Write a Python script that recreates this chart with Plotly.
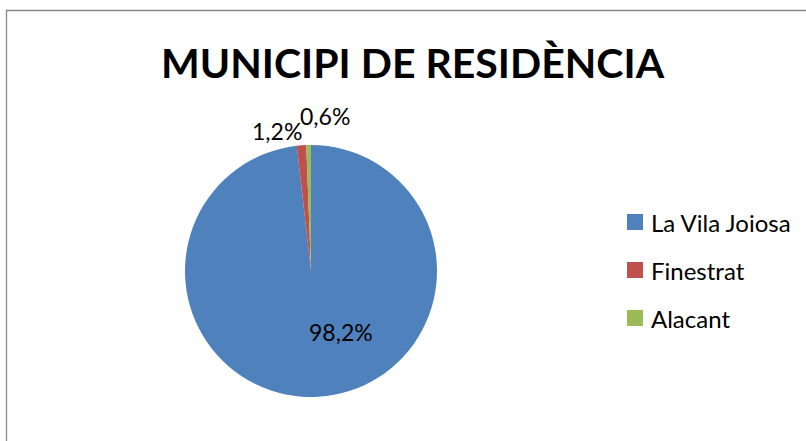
import plotly.graph_objects as go

categories = ["La Vila Joiosa", "Finestrat", "Alacant"]
values = [98.2, 1.2, 0.6]
colors = ["#4F81BD", "#C0504D", "#9BBB59"]
title_text = "MUNICIPI DE RESIDÈNCIA"

W, H = 806, 441
FONT = "Lato, Carlito, Calibri, sans-serif"

def px(x):
    return x / W

def py(y):
    return 1 - y / H

fig = go.Figure()
fig.add_trace(go.Pie(
    labels=categories,
    values=values,
    marker=dict(colors=colors, line=dict(width=0)),
    sort=False,
    direction="clockwise",
    rotation=0,
    textinfo="none",
    hoverinfo="label+percent",
    showlegend=False,
    domain=dict(x=[px(185), px(437)], y=[py(397), py(145)]),
))

# data labels
label_pos = [(341, 332), (277, 131), (325, 116)]
annotations = []
for v, (x, y) in zip(values, label_pos):
    annotations.append(dict(
        x=px(x), y=py(y), xref="paper", yref="paper",
        text=f"{v:.1f}%".replace(".", ","), showarrow=False,
        font=dict(family=FONT, size=23, color="#000000"),
        xanchor="center", yanchor="middle",
    ))

# title
annotations.append(dict(
    x=px(413), y=py(62), xref="paper", yref="paper",
    text=f"<b>{title_text}</b>", showarrow=False,
    font=dict(family=FONT, size=41, color="#000000"),
    xanchor="center", yanchor="middle",
))

# legend (manual)
shapes = []
legend_y = [222, 270, 318]
for cat, col, ly in zip(categories, colors, legend_y):
    shapes.append(dict(
        type="rect", xref="paper", yref="paper",
        x0=px(627), x1=px(643), y0=py(ly + 8), y1=py(ly - 8),
        fillcolor=col, line=dict(width=0),
    ))
    annotations.append(dict(
        x=px(649), y=py(ly), xref="paper", yref="paper",
        text=cat, showarrow=False,
        font=dict(family=FONT, size=24, color="#000000"),
        xanchor="left", yanchor="middle",
    ))

# chart area border
shapes.append(dict(
    type="rect", xref="paper", yref="paper",
    x0=px(6.5), x1=px(W + 20), y0=py(H + 20), y1=py(10.5),
    line=dict(color="#898989", width=1.3), fillcolor="rgba(0,0,0,0)",
))

fig.update_layout(
    width=W, height=H, autosize=False,
    margin=dict(l=0, r=0, t=0, b=0),
    paper_bgcolor="#FFFFFF", plot_bgcolor="#FFFFFF",
    annotations=annotations, shapes=shapes,
    showlegend=False,
)

fig.write_html("out.html",
               config={"displayModeBar": False},
               post_script="document.body.style.margin='0';document.body.style.overflow='hidden';")
